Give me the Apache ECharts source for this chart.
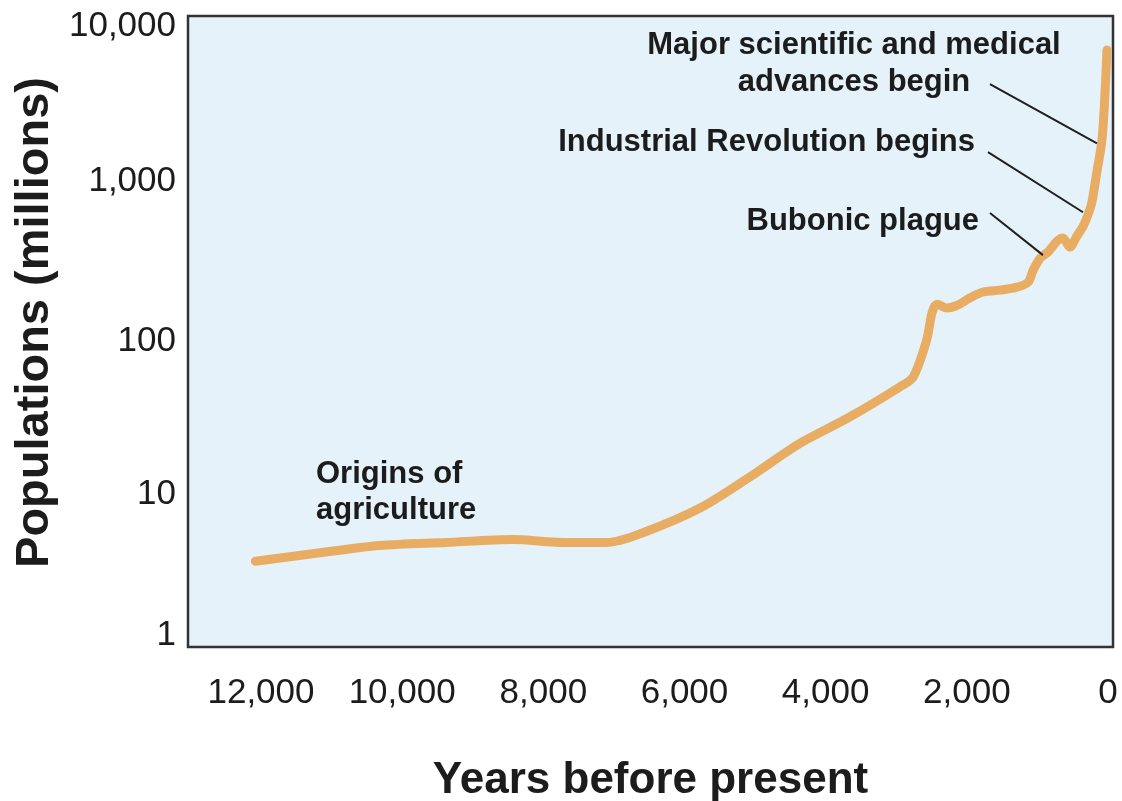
<!DOCTYPE html>
<html>
<head>
<meta charset="utf-8">
<script src="https://cdn.jsdelivr.net/npm/echarts@6/dist/echarts.min.js"></script>
<style>
  html, body { margin: 0; padding: 0; background: #ffffff; }
  #chart { width: 1122px; height: 801px; }
</style>
</head>
<body>
<div id="chart"></div>
<script>
// World population through history (millions), by years before present
const yearsBeforePresent = [12080, 11270, 10320, 9370, 8430, 7720, 7100, 6590, 5780,
  5070, 4360, 3660, 2950, 2760, 2570, 2490, 2420, 2280, 2130,
  1960, 1770, 1530, 1290, 1130, 1060, 960, 850, 720, 640,
  540, 440, 350, 280, 230, 160, 85, 45, 15];
const populationMillions = [3.5, 3.9, 4.4, 4.6, 4.8, 4.6, 4.6, 5.3, 7.6,
  12, 19.6, 28.7, 44.5, 51.5, 88, 133, 149, 141, 147,
  163, 178, 183, 191, 206, 245, 292, 319, 375, 392,
  343, 403, 467, 556, 653, 1010, 1640, 3070, 6090];

// Axis ranges and tick step
const xRange = [-71, 13034];
const xTickStep = 2000;
const yRange = [1, 10000];

// Event annotations: leader line from the label to the curve, in data units
const eventNames = ['Major scientific and medical advances begin', 'Industrial Revolution begins', 'Bubonic plague'];
const leaderFrom = [[1672, 3700], [1700, 1370], [1672, 564]];
const leaderTo = [[156, 1560], [354, 570], [921, 305]];

const seriesData = yearsBeforePresent.map((y, i) => [y, populationMillions[i]]);
const leaderData = leaderFrom.map((p, i) => [{ coord: p, name: eventNames[i] }, { coord: leaderTo[i] }]);

const FONT = '"Liberation Sans", Arial, Helvetica, sans-serif';
const INK = '#1c1c1c';

// vertical nudges for the log-axis labels (keyed by exponent)
const yLabelRich = {
  e0: { padding: [0, 0, 24, 0] },
  e1: { padding: [10, 0, 0, 0] },
  e2: { padding: [19, 0, 0, 0] },
  e3: { padding: [16, 0, 0, 0] },
  e4: { padding: [20, 0, 0, 0] }
};
Object.keys(yLabelRich).forEach(k => Object.assign(yLabelRich[k], {
  fontFamily: FONT, fontSize: 35, color: INK
}));

const chart = echarts.init(document.getElementById('chart'), null, { renderer: 'canvas' });

chart.setOption({
  backgroundColor: '#ffffff',
  animation: false,
  grid: {
    left: 188, right: 9, top: 16, bottom: 154,
    containLabel: false,
    outerBoundsMode: 'none',
    show: true,
    backgroundColor: '#e5f2fa',
    borderColor: '#333333',
    borderWidth: 2.5
  },
  xAxis: {
    type: 'value',
    inverse: true,
    min: xRange[0],
    max: xRange[1],
    minInterval: xTickStep,
    maxInterval: xTickStep,
    name: 'Years before present',
    nameLocation: 'middle',
    nameGap: 112,
    nameTextStyle: { fontFamily: FONT, fontSize: 44, fontWeight: 'bold', color: INK },
    axisLine: { show: false },
    axisTick: { show: false },
    splitLine: { show: false },
    axisLabel: {
      margin: 29,
      showMinLabel: false,
      showMaxLabel: false,
      fontFamily: FONT,
      fontSize: 35,
      color: INK,
      formatter: v => Math.abs(v).toLocaleString('en-US')
    }
  },
  yAxis: {
    type: 'log',
    logBase: 10,
    min: yRange[0],
    max: yRange[1],
    name: 'Populations (millions)',
    nameLocation: 'middle',
    nameRotate: 90,
    nameGap: 128,
    nameTextStyle: { fontFamily: FONT, fontSize: 47, fontWeight: 'bold', color: INK, padding: [0, 0, 0, 18] },
    axisLine: { show: false },
    axisTick: { show: false },
    splitLine: { show: false },
    axisLabel: {
      margin: 12,
      formatter: v => '{e' + Math.round(Math.log10(v)) + '|' + v.toLocaleString('en-US') + '}',
      rich: yLabelRich
    }
  },
  series: [{
    type: 'line',
    data: seriesData,
    showSymbol: false,
    smooth: 0.3,
    lineStyle: { color: '#e8ad63', width: 9, cap: 'round', join: 'round' },
    markLine: {
      silent: true,
      symbol: ['none', 'none'],
      label: { show: false },
      lineStyle: { color: '#1f1f1f', width: 2, type: 'solid' },
      data: leaderData
    }
  }],
  graphic: [
    { type: 'text', x: 854, y: 45, style: { text: 'Major scientific and medical', font: 'bold 31px ' + FONT, fill: INK, textAlign: 'center', textVerticalAlign: 'middle' } },
    { type: 'text', x: 854, y: 82, style: { text: 'advances begin', font: 'bold 31px ' + FONT, fill: INK, textAlign: 'center', textVerticalAlign: 'middle' } },
    { type: 'text', x: 975, y: 142, style: { text: 'Industrial Revolution begins', font: 'bold 31px ' + FONT, fill: INK, textAlign: 'right', textVerticalAlign: 'middle' } },
    { type: 'text', x: 979, y: 221, style: { text: 'Bubonic plague', font: 'bold 31px ' + FONT, fill: INK, textAlign: 'right', textVerticalAlign: 'middle' } },
    { type: 'text', x: 316, y: 474, style: { text: 'Origins of', font: 'bold 31px ' + FONT, fill: INK, textAlign: 'left', textVerticalAlign: 'middle' } },
    { type: 'text', x: 316, y: 510, style: { text: 'agriculture', font: 'bold 31px ' + FONT, fill: INK, textAlign: 'left', textVerticalAlign: 'middle' } }
  ]
});
</script>
</body>
</html>
